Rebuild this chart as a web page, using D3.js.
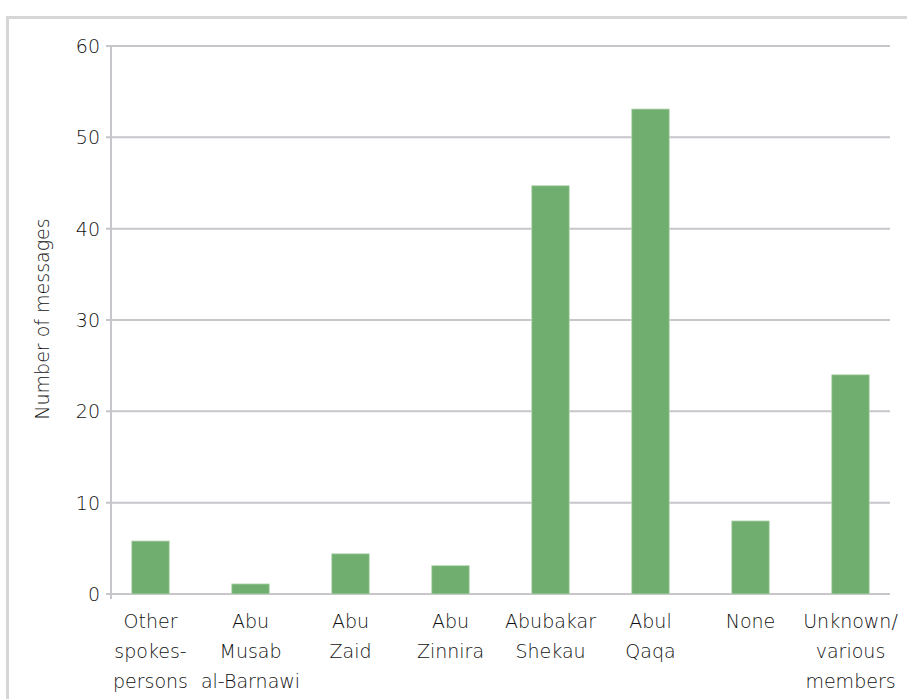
<!DOCTYPE html>
<html>
<head>
<meta charset="utf-8">
<script src="https://cdn.jsdelivr.net/npm/d3@7"></script>
<style>
  html, body { margin: 0; padding: 0; background: #fff; }
  svg { display: block; }
  text { font-family: "DejaVu Sans", Roboto, sans-serif; font-weight: 200; fill: #111; }
</style>
</head>
<body>
<svg id="chart" width="907" height="699"></svg>
<script>
const categories = [
  ["Other", "spokes-", "persons"],
  ["Abu", "Musab", "al-Barnawi"],
  ["Abu", "Zaid"],
  ["Abu", "Zinnira"],
  ["Abubakar", "Shekau"],
  ["Abul", "Qaqa"],
  ["None"],
  ["Unknown/", "various", "members"]
];
const messages = [5.8, 1.1, 4.4, 3.1, 44.7, 53.1, 8.0, 24.0];
const yTicks = [0, 10, 20, 30, 40, 50, 60];
const yLabel = "Number of messages";

const svg = d3.select("#chart");

// outer frame
svg.append("rect")
  .attr("x", 7.5).attr("y", 17.5)
  .attr("width", 920).attr("height", 720)
  .attr("fill", "none").attr("stroke", "#d6d6d6").attr("stroke-width", 3);

const keys = categories.map((c, i) => String(i));
const x = d3.scaleBand().domain(keys).range([100.5, 900.5]).paddingInner(0.625).paddingOuter(0.3125);
const y = d3.scaleLinear().domain([0, 60]).range([594, 46]);

const axisX = 111;
const gridRight = 890;

// gridlines
svg.append("g").selectAll("line").data(yTicks).join("line")
  .attr("x1", axisX - 5).attr("x2", gridRight)
  .attr("y1", d => y(d)).attr("y2", d => y(d))
  .attr("stroke", "#c6c6cb").attr("stroke-width", 2);

// vertical axis line
svg.append("line")
  .attr("x1", axisX).attr("x2", axisX)
  .attr("y1", y(60)).attr("y2", y(0) + 5)
  .attr("stroke", "#c6c6cb").attr("stroke-width", 2);

// y tick labels
svg.append("g").selectAll("text").data(yTicks).join("text")
  .attr("x", 100).attr("y", d => y(d))
  .attr("dy", "0.36em")
  .attr("text-anchor", "end")
  .attr("font-size", 19)
  .text(d => d);

// y label
svg.append("text")
  .attr("transform", `translate(49, ${(y(0) + y(60)) / 2 - 1}) rotate(-90)`)
  .attr("text-anchor", "middle")
  .attr("font-size", 19)
  .text(yLabel);

// bars
svg.append("g").selectAll("rect").data(messages).join("rect")
  .attr("x", (d, i) => x(keys[i]))
  .attr("width", x.bandwidth())
  .attr("y", d => y(d))
  .attr("height", d => y(0) - y(d))
  .attr("fill", "#6fae6f")
  .attr("stroke", "#b9d8b6").attr("stroke-width", 0.8);

// x labels
const xl = svg.append("g").selectAll("text").data(categories).join("text")
  .attr("text-anchor", "middle")
  .attr("font-size", 19)
  .attr("transform", (d, i) => `translate(${x(keys[i]) + x.bandwidth() / 2}, 628)`);
xl.selectAll("tspan").data(d => d).join("tspan")
  .attr("x", 0)
  .attr("y", (d, j) => j * 30)
  .text(d => d);
</script>
</body>
</html>
